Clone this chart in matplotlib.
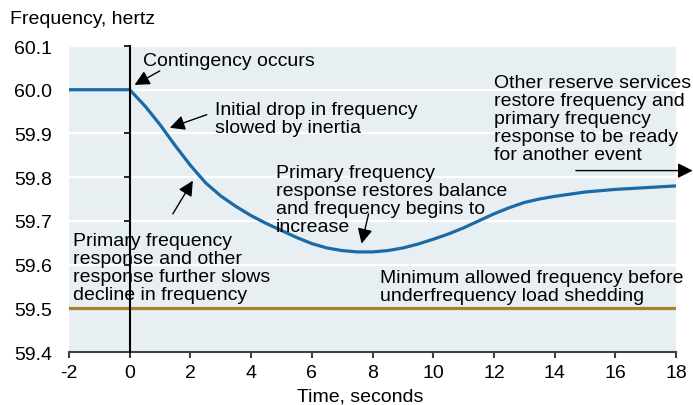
import matplotlib.pyplot as plt

plt.rcParams['font.family'] = ['Liberation Sans', 'DejaVu Sans']

# frequency trace after the contingency
time_s = [-2, 0, 0.5, 1, 1.5, 2, 2.5, 3, 3.5, 4, 4.5, 5, 5.5, 6, 6.5, 7, 7.5,
          8, 8.5, 9, 9.5, 10, 10.5, 11, 11.5, 12, 12.5, 13, 13.5, 14, 15, 16,
          17, 18]
freq_hz = [60.0, 60.0, 59.963, 59.92, 59.872, 59.827, 59.787, 59.757, 59.733,
           59.712, 59.694, 59.678, 59.662, 59.648, 59.638, 59.632, 59.629,
           59.629, 59.632, 59.638, 59.647, 59.658, 59.67, 59.684, 59.70,
           59.716, 59.73, 59.742, 59.75, 59.756, 59.766, 59.772, 59.776, 59.78]

min_allowed = 59.5

xticks = [-2, 0, 2, 4, 6, 8, 10, 12, 14, 16, 18]
xtick_labels = ['-2', '0', '2', '4', '6', '8', '10', '12', '14', '16', '18']
yticks = [59.4, 59.5, 59.6, 59.7, 59.8, 59.9, 60.0, 60.1]
ytick_labels = ['59.4', '59.5', '59.6', '59.7', '59.8', '59.9', '60.0', '60.1']

blue = '#1A6AA6'
gold = '#A6832B'
fs = 14

fig = plt.figure(figsize=(6.93, 4.06), dpi=100)
ax = fig.add_axes([0.0996, 0.1305, 0.8759, 0.7537])
ax.set_facecolor('#E8EFF2')

ax.set_xlim(-2, 18)
ax.set_ylim(59.4, 60.1)
ax.grid(True, axis='y', color='white', linewidth=1.6)
ax.set_axisbelow(True)

ax.axhline(min_allowed, color=gold, linewidth=2.3, zorder=2)
ax.plot(time_s, freq_hz, color=blue, linewidth=2.3, zorder=3)

# y axis drawn at t = 0, labels pushed out to the left edge
ax.spines['left'].set_position(('data', 0))
ax.spines['left'].set_linewidth(1.5)
ax.spines['left'].set_zorder(4)
ax.spines['top'].set_visible(False)
ax.spines['right'].set_visible(False)
ax.spines['bottom'].set_color('#404040')
ax.spines['bottom'].set_linewidth(1.5)

ax.set_yticks(yticks, labels=ytick_labels)
ax.set_xticks(xticks, labels=xtick_labels)
ax.tick_params(axis='y', direction='out', length=4, width=1.2, pad=52,
               labelsize=fs)
ax.tick_params(axis='x', direction='out', length=4.5, width=1.5,
               color='#404040', pad=4, labelsize=fs)

ax.set_xlabel('Time, seconds', fontsize=fs, labelpad=0)
ax.xaxis.set_label_coords(0.479, -0.115)
fig.text(0.014, 0.942, 'Frequency, hertz', fontsize=fs, va='baseline')

arrow = dict(arrowstyle='-|>,head_length=0.6,head_width=0.3', color='black',
             lw=1.0, shrinkA=0, shrinkB=0, mutation_scale=15)

# va='baseline' puts the last line of each block on the given y
txt = dict(fontsize=fs, va='baseline', ha='left', linespacing=1.08)

ax.text(0.43, 60.057, 'Contingency occurs', **txt)
ax.annotate('', xy=(0.16, 60.011), xytext=(0.99, 60.043), arrowprops=arrow)

ax.text(2.80, 59.904, 'Initial drop in frequency\nslowed by inertia', **txt)
ax.annotate('', xy=(1.32, 59.913), xytext=(2.54, 59.943), arrowprops=arrow)

ax.text(-1.88, 59.522, 'Primary frequency\nresponse and other\n'
        'response further slows\ndecline in frequency', **txt)
ax.annotate('', xy=(2.08, 59.792), xytext=(1.42, 59.716), arrowprops=arrow)

ax.text(4.81, 59.677, 'Primary frequency\nresponse restores balance\n'
        'and frequency begins to\nincrease', **txt)
ax.annotate('', xy=(7.64, 59.648), xytext=(7.87, 59.716), arrowprops=arrow)

ax.text(11.99, 59.842, 'Other reserve services\nrestore frequency and\n'
        'primary frequency\nresponse to be ready\nfor another event', **txt)
ax.annotate('', xy=(18.55, 59.815), xytext=(14.70, 59.815), arrowprops=arrow,
            annotation_clip=False)

ax.text(8.24, 59.519, 'Minimum allowed frequency before\n'
        'underfrequency load shedding', **txt)

fig.savefig('out.png', dpi=100)
